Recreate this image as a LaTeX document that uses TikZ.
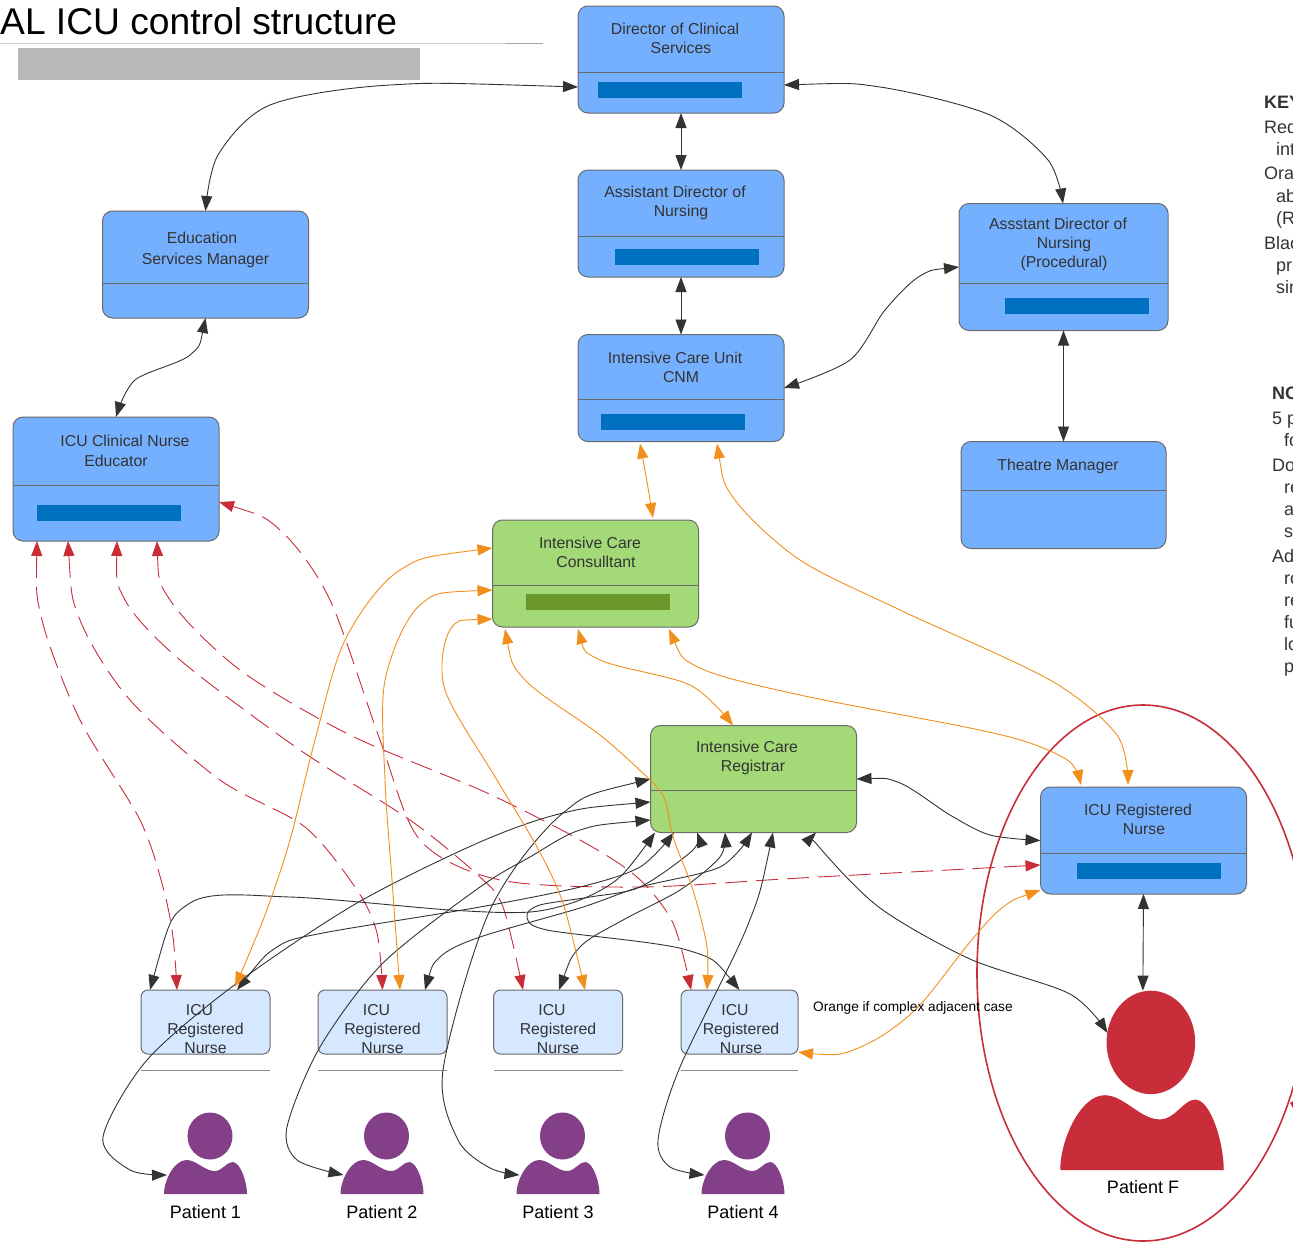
\documentclass[tikz,border=0pt]{standalone}
\usepackage{fontspec}
\setmainfont{Liberation Sans}
\usetikzlibrary{arrows.meta}
\usepackage{xcolor}
\definecolor{careblue}{HTML}{75B0FF}
\definecolor{caregreen}{HTML}{A3D977}
\definecolor{nurseblue}{HTML}{D5E8FF}
\definecolor{boxedge}{HTML}{6A6A6A}
\definecolor{inkdark}{HTML}{333333}
\definecolor{linkorange}{HTML}{F28E1C}
\definecolor{linkred}{HTML}{C92D39}
\definecolor{barblue}{HTML}{0070C0}
\definecolor{bargreen}{HTML}{6A962B}
\definecolor{patientpurple}{HTML}{833F87}
\tikzset{
	carebox/.style={draw=boxedge,fill=careblue,line width=1pt,rounded corners=10pt,inner sep=0pt,outer sep=0pt,minimum width=206pt,minimum height=107pt},
	nursebox/.style={draw=boxedge,fill=nurseblue,line width=1pt,rounded corners=7pt,inner sep=0pt,outer sep=0pt,minimum width=129pt,minimum height=64pt},
	boxtext/.style={text=inkdark,inner sep=0pt,align=center,font=\fontsize{15.8}{19}\selectfont},
	hidebar/.style={fill=barblue,inner sep=0pt,minimum width=144pt,minimum height=16pt},
	divide/.style={draw=boxedge,line width=1pt},
	sideline/.style={draw=#1,line width=1pt},
	blacklink/.style={draw=inkdark,fill=none,line width=.9pt,<->,>={Triangle[length=15pt,width=11pt,fill=inkdark]}},
	orangelink/.style={draw=linkorange,fill=none,line width=.9pt,<->,>={Triangle[length=15pt,width=11pt,fill=linkorange]}},
	redlink/.style={draw=linkred,fill=none,line width=.9pt,dash pattern=on 22pt off 9pt,<->,>={Triangle[length=15pt,width=11pt,fill=linkred]}},
	patname/.style={inner sep=0pt,font=\fontsize{18}{20}\selectfont},
	keytext/.style={text=inkdark,inner sep=0pt,anchor=base west,font=\fontsize{18}{20}\selectfont},
	patient/.pic={
		\fill[pic actions] (-41.5,0) .. controls (-41.5,-14) and (-31,-34) .. (-19,-34) .. controls (-9,-34) and (-1,-23) .. (9,-23) .. controls (17,-23) and (21,-32) .. (27,-32) .. controls (35,-32) and (41.5,-12) .. (41.5,0) -- cycle;
		\fill[pic actions] (4.5,-58) ellipse (22.5 and 23.5);
		\coordinate (-side) at (-38.5,-19);
		\coordinate (-head) at (4.5,-81.5);
		\coordinate (-ear) at (-17.5,-60);
	},
}
\begin{document}
\begin{tikzpicture}[x=1pt,y=-1pt]
	\useasboundingbox (0,0) rectangle (1293,1242);
	\clip (0,0) rectangle (1293,1242);
	% heading
	\node[inner sep=0pt,anchor=base west,font=\fontsize{37.2}{40}\selectfont] (title) at (0,34) {AL ICU control structure};
	\draw[sideline=black!20] (title.west |- 0,43) -- (505,43);
	\draw[sideline=black!35] (505,43) -- (543,43);
	\node[fill=black!28,inner sep=0pt,minimum width=402pt,minimum height=32pt] (titlebar) at (219,64) {};
	% managers
	\node[carebox] (dcs) at (681,59.5) {};
	\node[carebox] (adn) at (681,223.5) {};
	\node[carebox] (edu) at (205.5,264.5) {};
	\node[carebox] (cnm) at (681,388) {};
	\node[carebox,minimum width=209pt,minimum height=127pt] (proc) at (1063.5,267) {};
	\node[carebox,minimum width=205pt] (theatre) at (1063.5,495) {};
	\node[carebox,minimum height=124pt] (cne) at (116,479) {};
	\node[carebox,fill=caregreen] (cons) at (595.5,573.5) {};
	\node[carebox,fill=caregreen] (reg) at (753.5,779) {};
	\node[carebox] (rnf) at (1143.5,840.5) {};
	%
	\draw[divide] ([yshift=-66pt]dcs.north west) -- ([yshift=-66pt]dcs.north east);
	\draw[divide] ([yshift=-66pt]adn.north west) -- ([yshift=-66pt]adn.north east);
	\draw[divide] ([yshift=-72pt]edu.north west) -- ([yshift=-72pt]edu.north east);
	\draw[divide] ([yshift=-65pt]cnm.north west) -- ([yshift=-65pt]cnm.north east);
	\draw[divide] ([yshift=-80pt]proc.north west) -- ([yshift=-80pt]proc.north east);
	\draw[divide] ([yshift=-49pt]theatre.north west) -- ([yshift=-49pt]theatre.north east);
	\draw[divide] ([yshift=-68pt]cne.north west) -- ([yshift=-68pt]cne.north east);
	\draw[divide] ([yshift=-65pt]cons.north west) -- ([yshift=-65pt]cons.north east);
	\draw[divide] ([yshift=-65pt]reg.north west) -- ([yshift=-65pt]reg.north east);
	\draw[divide] ([yshift=-66pt]rnf.north west) -- ([yshift=-66pt]rnf.north east);
	%
	\node[hidebar] (dcs bar) at (669.5,89.5) {};
	\node[hidebar] (adn bar) at (687,256.5) {};
	\node[hidebar] (cnm bar) at (673,422) {};
	\node[hidebar] (proc bar) at (1076.5,306) {};
	\node[hidebar] (cne bar) at (109,513) {};
	\node[hidebar,fill=bargreen] (cons bar) at (598,602) {};
	\node[hidebar] (rnf bar) at (1149,871) {};
	%
	\node[boxtext] (dcs text) at (681,38.5) {Director of Clinical\hspace*{12pt}\\Services};
	\node[boxtext] (adn text) at (681,202.5) {Assistant Director of\hspace*{12pt}\\Nursing};
	\node[boxtext,font=\fontsize{15.8}{21}\selectfont] (edu text) at (205.5,249.5) {Education\hspace*{7pt}\\Services Manager};
	\node[boxtext] (cnm text) at (681,367.5) {Intensive Care Unit\hspace*{12pt}\\CNM};
	\node[boxtext] (proc text) at (1064,244) {Assstant Director of\hspace*{12pt}\\Nursing\\(Procedural)};
	\node[boxtext] (theatre text) at (1058,466) {Theatre Manager};
	\node[boxtext,font=\fontsize{15.8}{20}\selectfont] (cne text) at (125,451) {ICU Clinical Nurse\\Educator\hspace*{18pt}};
	\node[boxtext] (cons text) at (596,552.5) {Intensive Care\hspace*{12pt}\\Consulltant};
	\node[boxtext] (reg text) at (753,757.5) {Intensive Care\hspace*{12pt}\\Registrar};
	\node[boxtext] (rnf text) at (1144,819.5) {ICU Registered\hspace*{12pt}\\Nurse};
	% bedside nurses
	\node[nursebox] (rn1) at (205.5,1022) {};
	\node[nursebox] (rn2) at (382.5,1022) {};
	\node[nursebox] (rn3) at (558,1022) {};
	\node[nursebox,minimum width=117pt] (rn4) at (739.5,1022) {};
	\draw[sideline=black!45] ([yshift=-16pt]rn1.south west) -- ([yshift=-16pt]rn1.south east);
	\draw[sideline=black!45] ([yshift=-16pt]rn2.south west) -- ([yshift=-16pt]rn2.south east);
	\draw[sideline=black!45] ([yshift=-16pt]rn3.south west) -- ([yshift=-16pt]rn3.south east);
	\draw[sideline=black!45] ([yshift=-16pt]rn4.south west) -- ([yshift=-16pt]rn4.south east);
	\node[boxtext] (rn1 text) at (205.5,1029) {ICU\hspace*{12pt}\\Registered\\Nurse};
	\node[boxtext] (rn2 text) at (382.5,1029) {ICU\hspace*{12pt}\\Registered\\Nurse};
	\node[boxtext] (rn3 text) at (558,1029) {ICU\hspace*{12pt}\\Registered\\Nurse};
	\node[boxtext] (rn4 text) at (741,1029) {ICU\hspace*{12pt}\\Registered\\Nurse};
	% patients
	\pic[fill=patientpurple] (pat1) at (205.5,1194) {patient};
	\pic[fill=patientpurple] (pat2) at (382,1194) {patient};
	\pic[fill=patientpurple] (pat3) at (558,1194) {patient};
	\pic[fill=patientpurple] (pat4) at (743,1194) {patient};
	\pic[fill=linkred,xscale=1.97,yscale=2.2] (patf) at (1142,1170) {patient};
	\node[patname] (pat1 name) at (205.5,1212) {Patient 1};
	\node[patname] (pat2 name) at (382,1212) {Patient 2};
	\node[patname] (pat3 name) at (558,1212) {Patient 3};
	\node[patname] (pat4 name) at (743,1212) {Patient 4};
	\node[patname] (patf name) at (1143,1187) {Patient F};
	\draw[draw=linkred,line width=1.6pt] (1143,973) ellipse (166 and 268);
	\fill[linkred] (1290,1103) -- (1293,1101) -- (1293,1108) -- cycle;
	% red dashed
	\draw[redlink] plot[smooth] coordinates {([yshift=-23pt]cne.east) (280,530) (330,600) (380,740) (420,840) (500,880) (640,887) (800,878) ([yshift=-24.5pt]rnf.west)};
	\draw[redlink] plot[smooth] coordinates {([xshift=-79pt]cne.south) (42,620) (80,720) (140,820) (163,887) (173,937) ([xshift=-28.5pt]rn1.north)};
	\draw[redlink] plot[smooth] coordinates {([xshift=-48pt]cne.south) (80,620) (130,700) (220,780) (305,827) (357,890) (377,933) (rn2.north)};
	\draw[redlink] plot[smooth] coordinates {([xshift=1pt]cne.south) (125,600) (180,660) (300,750) (410,820) (480,877) (503,907) ([xshift=-35pt]rn3.north)};
	\draw[redlink] plot[smooth] coordinates {([xshift=41pt]cne.south) (170,600) (240,670) (350,735) (485,792) (580,840) (637,877) (673,923) ([xshift=-48.5pt]rn4.north)};
	% black
	\draw[blacklink] plot[smooth] coordinates {([yshift=-27.5pt]dcs.west) (390,85) (270,105) (218,155) (edu.north)};
	\draw[blacklink] (dcs.south) -- (adn.north);
	\draw[blacklink] (adn.south) -- (cnm.north);
	\draw[blacklink] plot[smooth] coordinates {([yshift=-25.5pt]dcs.east) (880,87) (990,115) (1048,160) ([xshift=-.5pt]proc.north)};
	\draw[blacklink] plot[smooth] coordinates {(proc.west) (920,276) (885,310) (850,360) (cnm.east)};
	\draw[blacklink] (proc.south) -- (theatre.north);
	\draw[blacklink] plot[smooth] coordinates {(edu.south) (190,355) (135,380) (cne.north)};
	\draw[blacklink] plot[smooth] coordinates {(reg.east) (900,783) (950,815) (990,835) (rnf.west)};
	\draw[blacklink] (rnf.south) -- ([xshift=-8pt]patf-head);
	\draw[blacklink] plot[smooth] coordinates {([xshift=62.5pt]reg.south) (820,848) (880,908) (970,959) (1070,994) ([yshift=5pt]patf-ear)};
	\draw[blacklink] plot[smooth] coordinates {(reg.west) (563,813) (490,910) (443,1070) (458,1140) (490,1168) (pat3-side)};
	\draw[blacklink] plot[smooth] coordinates {([yshift=-23pt]reg.west) (563,813) (480,842) (357,903) (237,983) (147,1060) (103,1137) (130,1170) (pat1-side)};
	\draw[blacklink] plot[smooth] coordinates {([yshift=-41pt]reg.west) (580,830) (530,857) (480,887) (383,963) (320,1047) (287,1127) (297,1160) (pat2-side)};
	\draw[blacklink] plot[smooth] coordinates {([xshift=19.5pt]reg.south) (747,927) (680,1067) (658,1140) (670,1167) (pat4-side)};
	\draw[blacklink] plot[smooth] coordinates {([xshift=-55.5pt]rn1.north) (190,903) (290,897) (450,910) (530,912) (580,900) (620,877) ([xshift=-98.5pt]reg.south)};
	\draw[blacklink] plot[smooth] coordinates {([xshift=31.5pt]rn1.north) (277,947) (323,933) (480,907) (580,887) (640,867) ([xshift=-79.5pt]reg.south)};
	\draw[blacklink] plot[smooth] coordinates {([xshift=42.5pt]rn2.north) (440,957) (480,937) (580,908) (640,887) (720,867) ([xshift=-1.5pt]reg.south)};
	\draw[blacklink] plot[smooth] coordinates {([xshift=1pt]rn3.north) (580,947) (623,920) (680,890) (720,857) ([xshift=-28.5pt]reg.south)};
	\draw[blacklink] plot[smooth] coordinates {(rn4.north) (687,950) (547,930) (527,916) (540,905) (590,897) (640,887) (693,850) ([xshift=-56.5pt]reg.south)};
	% orange
	\draw[orangelink] plot[smooth] coordinates {([xshift=-41pt,yshift=-2pt]cnm.south) (647,482) ([xshift=57.5pt,yshift=2pt]cons.north)};
	\draw[orangelink] plot[smooth] coordinates {([xshift=36pt,yshift=-2pt]cnm.south) (735,500) (800,560) (900,610) (1050,680) (1117,735) ([xshift=-15.5pt,yshift=2pt]rnf.north)};
	\draw[orangelink] plot[smooth] coordinates {([xshift=-17.5pt,yshift=-2pt]cons.south) (600,660) (690,685) ([xshift=-20.5pt]reg.north)};
	\draw[orangelink] plot[smooth] coordinates {([xshift=73.5pt,yshift=-2pt]cons.south) (700,668) (800,695) (970,728) (1030,743) (1070,762) ([xshift=-62.5pt,yshift=2pt]rnf.north)};
	\draw[orangelink] plot[smooth] coordinates {([xshift=-90.5pt,yshift=-2pt]cons.south) (525,680) (600,735) (650,780) (665,800) (673,837) (693,890) (707,947) ([xshift=-32.5pt]rn4.north)};
	\draw[orangelink] plot[smooth] coordinates {([yshift=25.5pt]cons.west) (400,570) (345,640) (315,740) (290,840) (265,915) ([xshift=29.5pt,yshift=3pt]rn1.north)};
	\draw[orangelink] plot[smooth] coordinates {([yshift=-16.5pt]cons.west) (420,605) (385,680) (385,780) (392,880) ([xshift=17.5pt]rn2.north)};
	\draw[orangelink] plot[smooth] coordinates {([yshift=-45.5pt]cons.west) (450,630) (445,690) (497,780) (537,847) (563,903) ([xshift=27pt]rn3.north)};
	\draw[orangelink] plot[smooth] coordinates {([yshift=-49.5pt]rnf.west) (1003,907) (970,942) (920,1005) (880,1037) (840,1054) ([yshift=-30pt]rn4.east)};
	\node[inner sep=0pt,anchor=base west,font=\fontsize{13.7}{15}\selectfont] (orange note) at (813,1011) {Orange if complex adjacent case};
	% key, cut by the page edge
	\node[keytext,font=\bfseries\fontsize{18}{20}\selectfont] (key head) at (1264,108) {KEY};
	\node[keytext] (key a) at (1264,133) {Red};
	\node[keytext] (key b) at (1276,155) {int};
	\node[keytext] (key c) at (1264,179) {Ora};
	\node[keytext] (key d) at (1276,202) {ab};
	\node[keytext] (key e) at (1276,224) {(R};
	\node[keytext] (key f) at (1264,249) {Blac};
	\node[keytext] (key g) at (1276,271) {pr};
	\node[keytext] (key h) at (1276,293) {sin};
	\node[keytext,font=\bfseries\fontsize{18}{20}\selectfont] (note head) at (1272,399) {NO};
	\node[keytext] (note a) at (1272,424) {5 p};
	\node[keytext] (note b) at (1284,446) {fo};
	\node[keytext] (note c) at (1272,471) {Do};
	\node[keytext] (note d) at (1284,493) {re};
	\node[keytext] (note e) at (1284,515) {a};
	\node[keytext] (note f) at (1284,537) {s};
	\node[keytext] (note g) at (1272,562) {Ad};
	\node[keytext] (note h) at (1284,584) {ro};
	\node[keytext] (note i) at (1284,606) {re};
	\node[keytext] (note j) at (1284,628) {fu};
	\node[keytext] (note k) at (1284,650) {lo};
	\node[keytext] (note l) at (1284,672) {p};
\end{tikzpicture}
\end{document}
